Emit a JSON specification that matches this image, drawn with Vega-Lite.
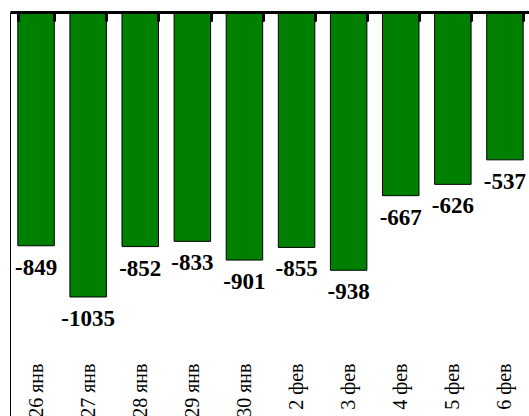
{
  "$schema": "https://vega.github.io/schema/vega-lite/v6.json",
  "width": 521,
  "height": 413,
  "padding": {"left": 10, "top": 12, "right": 0, "bottom": 0},
  "autosize": {"type": "none"},
  "background": "white",
  "config": {"view": {"stroke": null}},
  "data": {
    "values": [
      {"date": "26 янв", "value": -849},
      {"date": "27 янв", "value": -1035},
      {"date": "28 янв", "value": -852},
      {"date": "29 янв", "value": -833},
      {"date": "30 янв", "value": -901},
      {"date": "2 фев", "value": -855},
      {"date": "3 фев", "value": -938},
      {"date": "4 фев", "value": -667},
      {"date": "5 фев", "value": -626},
      {"date": "6 фев", "value": -537}
    ]
  },
  "resolve": {"scale": {"x": "independent"}, "axis": {"x": "independent"}},
  "layer": [
    {
      "mark": {"type": "bar", "fill": "#008000", "stroke": "black", "strokeWidth": 1},
      "encoding": {
        "x": {
          "field": "date", "type": "nominal", "sort": null,
          "scale": {"paddingInner": 0.3, "paddingOuter": 0.15},
          "axis": {
            "orient": "top", "title": null, "labels": false,
            "domain": true, "domainColor": "black", "domainWidth": 3,
            "ticks": true, "tickBand": "extent", "tickColor": "black",
            "tickWidth": 3, "tickSize": -8, "tickCap": "round", "grid": false,
            "zindex": 1
          }
        },
        "y": {
          "field": "value", "type": "quantitative",
          "scale": {"domain": [-1500, 0], "nice": false},
          "axis": {
            "title": null, "labels": false, "ticks": false, "grid": false,
            "domain": true, "domainColor": "black", "domainWidth": 1
          }
        }
      }
    },
    {
      "mark": {
        "type": "text", "baseline": "top", "align": "center", "dy": 11,
        "font": "Liberation Serif", "fontWeight": "bold", "fontSize": 23, "color": "black"
      },
      "encoding": {
        "x": {
          "field": "date", "type": "nominal", "sort": null,
          "scale": {"paddingInner": 0.3, "paddingOuter": 0.15},
          "axis": {
            "orient": "bottom", "title": null, "offset": -65,
            "domain": false, "ticks": false, "grid": false,
            "labelAngle": -90, "labelPadding": 3,
            "labelFont": "Liberation Serif", "labelFontSize": 20, "labelColor": "black"
          }
        },
        "y": {"field": "value", "type": "quantitative", "scale": {"domain": [-1500, 0], "nice": false}},
        "text": {"field": "value", "type": "nominal"}
      }
    }
  ]
}
